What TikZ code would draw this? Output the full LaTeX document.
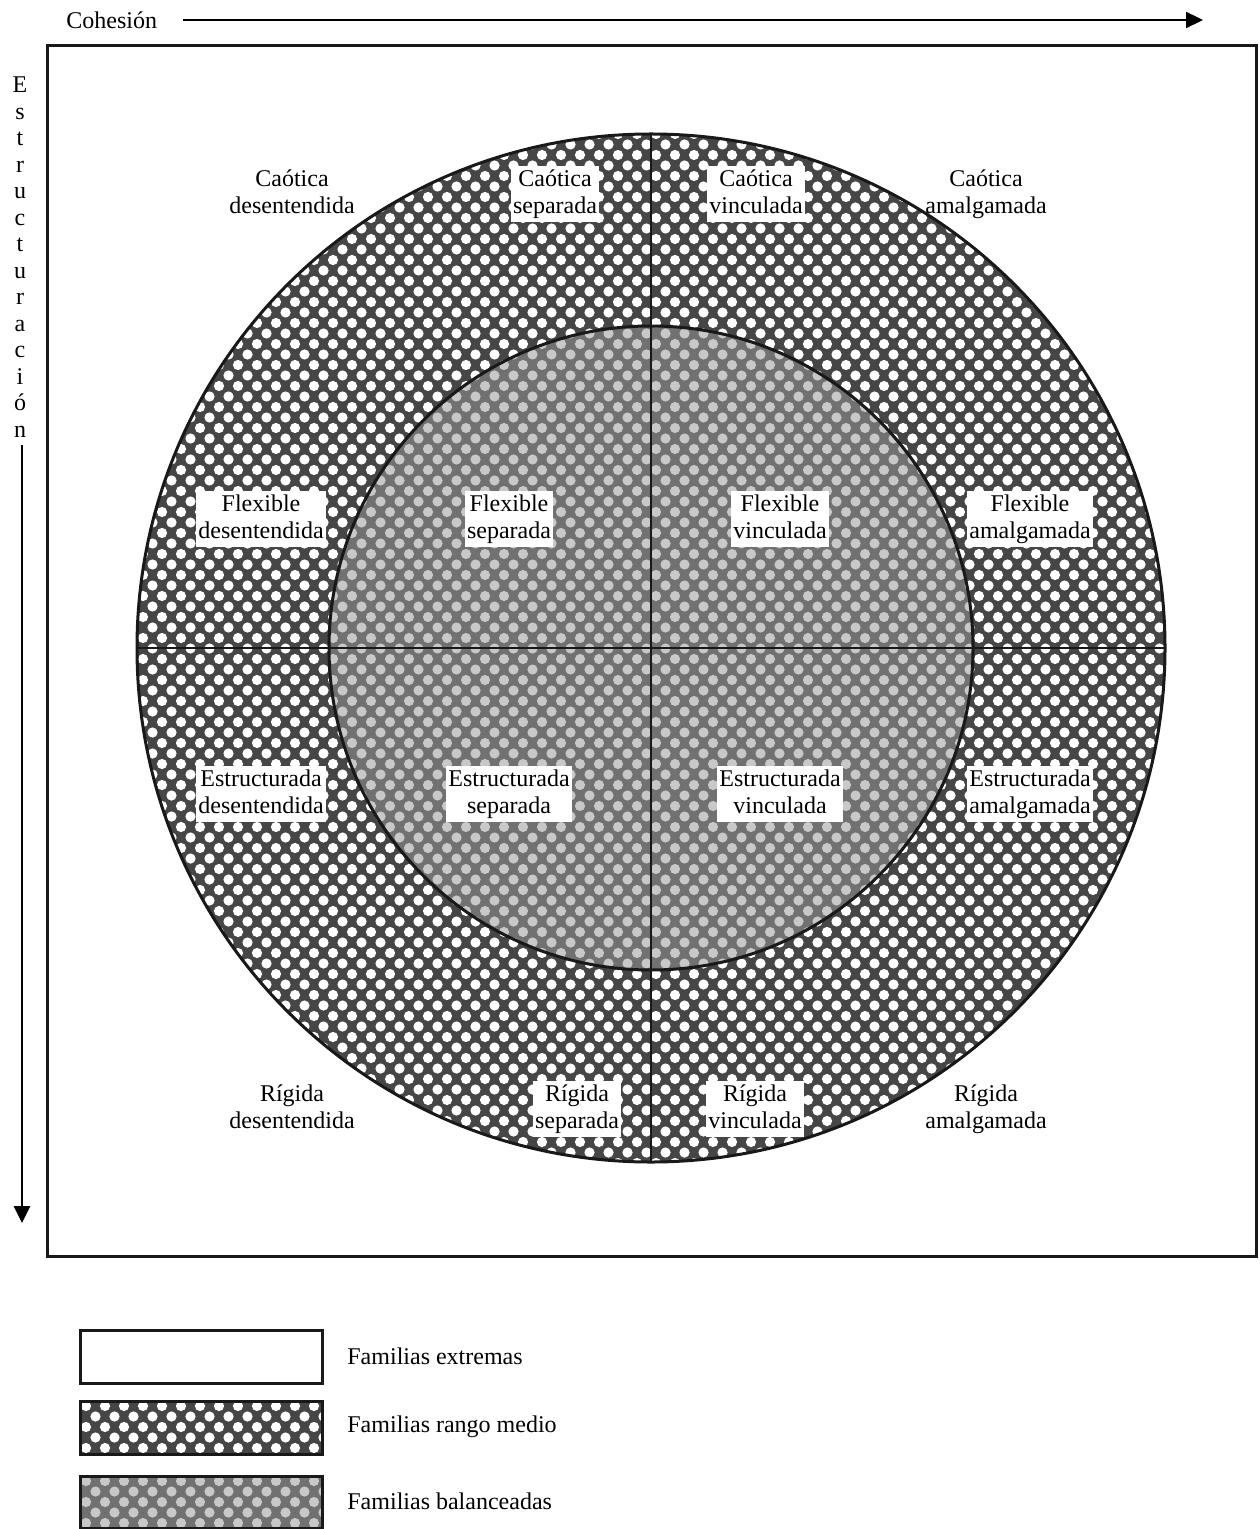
\documentclass[tikz,border=0pt]{standalone}
\usepackage{fontspec}
\setmainfont{Liberation Serif}
\usetikzlibrary{arrows.meta}
\definecolor{ringbg}{HTML}{464646}
\definecolor{balbg}{HTML}{717171}
\definecolor{baldot}{HTML}{C8C8C8}
% #1 x0, #2 y0, #3 last col, #4 last row, #5 dot colour
\newcommand{\mydots}[5]{%
  \foreach \j in {0,...,#4}{
    \fill[#5] \foreach \i in {0,...,#3}{
      ({#1+19*\i+9.5*mod(\j,2)},{#2+10.5*\j}) circle (5.1)
    };
  }%
}
\newcommand{\mystrut}{\rule[-3pt]{0pt}{12.2pt}}
\newcommand{\twolines}[2]{\mystrut#1\\\mystrut#2}
\tikzset{
  lab/.style={align=center, font=\fontsize{12}{13.5}\selectfont, inner sep=1.2pt},
  boxlab/.style={lab, fill=white},
  txt/.style={font=\fontsize{12}{13.5}\selectfont, inner sep=0pt},
  haxis/.style={line width=1.1pt, -{Triangle[length=8.5pt,width=8pt]}},
  vaxis/.style={line width=1.4pt, -{Triangle[length=8.5pt,width=8pt]}},
  frame/.style={draw=black!90, line width=1.5pt},
  legbox/.style={draw=black!90, line width=1.5pt},
  ringline/.style={draw=black!90, line width=1.5pt},
  divline/.style={draw=black!90, line width=1pt}
}
\begin{document}
\begin{tikzpicture}[x=0.5pt,y=-0.5pt]
\useasboundingbox (0,0) rectangle (1259,1529);
% top axis
\node[txt, anchor=base west] (cohesion) at (66,29) {Cohesión};
\coordinate (hstart) at (183,20);
\coordinate (hend) at (1203,20);
\draw[haxis] (hstart) -- (hend);
% left axis letters
\foreach \l [count=\i from 0] in {E,s,t,r,u,c,t,u,r,a,c,i,ó,n}{
  \node[txt, anchor=base] (v\i) at (20,{93+26.5*\i}) {\l};
}
\coordinate (vstart) at (22,445);
\coordinate (vend) at (22,1223);
\draw[vaxis] (vstart) -- (vend);
% frame
\node[frame, minimum width=604.5pt, minimum height=605.5pt, inner sep=0pt, anchor=north west] (box) at (46,44) {};
% circles
\coordinate (c) at (651,648);
\begin{scope}
  \clip (c) circle (514);
  \fill[ringbg] (c) circle (514);
  \mydots{124}{134}{56}{99}{white}
\end{scope}
\begin{scope}
  \clip (c) circle (322);
  \fill[balbg] (c) circle (322);
  \mydots{314}{323}{35}{63}{baldot}
\end{scope}
\draw[ringline] (c) circle (514);
\draw[ringline] (c) circle (322);
\coordinate (ntop) at (651,134);
\coordinate (nbot) at (651,1162);
\coordinate (nleft) at (137,648);
\coordinate (nright) at (1165,648);
\draw[divline] (ntop) -- (nbot);
\draw[divline] (nleft) -- (nright);
% labels
\node[lab] (cd) at (292,194) {\twolines{Caótica}{desentendida}};
\node[boxlab] (cs) at (555,194) {\twolines{Caótica}{separada}};
\node[boxlab] (cv) at (756,194) {\twolines{Caótica}{vinculada}};
\node[lab] (ca) at (986,194) {\twolines{Caótica}{amalgamada}};
\node[boxlab] (fd) at (261,519) {\twolines{Flexible}{desentendida}};
\node[boxlab] (fs) at (509,519) {\twolines{Flexible}{separada}};
\node[boxlab] (fv) at (780,519) {\twolines{Flexible}{vinculada}};
\node[boxlab] (fa) at (1030,519) {\twolines{Flexible}{amalgamada}};
\node[boxlab] (ed) at (261,794) {\twolines{Estructurada}{desentendida}};
\node[boxlab] (es) at (509,794) {\twolines{Estructurada}{separada}};
\node[boxlab] (ev) at (780,794) {\twolines{Estructurada}{vinculada}};
\node[boxlab] (ea) at (1030,794) {\twolines{Estructurada}{amalgamada}};
\node[lab] (rd) at (292,1109) {\twolines{Rígida}{desentendida}};
\node[boxlab] (rs) at (577,1109) {\twolines{Rígida}{separada}};
\node[boxlab] (rv) at (755,1109) {\twolines{Rígida}{vinculada}};
\node[lab] (ra) at (986,1109) {\twolines{Rígida}{amalgamada}};
% legend
\draw[legbox, fill=white] (80,1330) rectangle (322,1383);
\begin{scope}
  \clip (80,1401) rectangle (322,1454);
  \fill[ringbg] (80,1401) rectangle (322,1454);
  \mydots{67}{1406}{13}{5}{white}
\end{scope}
\draw[legbox] (80,1401) rectangle (322,1454);
\begin{scope}
  \clip (80,1476) rectangle (322,1528);
  \fill[balbg] (80,1476) rectangle (322,1528);
  \mydots{67}{1481}{13}{5}{baldot}
\end{scope}
\draw[legbox] (80,1476) rectangle (322,1528);
\node[txt, anchor=base west] (l1) at (347,1364) {Familias extremas};
\node[txt, anchor=base west] (l2) at (347,1432) {Familias rango medio};
\node[txt, anchor=base west] (l3) at (347,1509) {Familias balanceadas};
\end{tikzpicture}
\end{document}
